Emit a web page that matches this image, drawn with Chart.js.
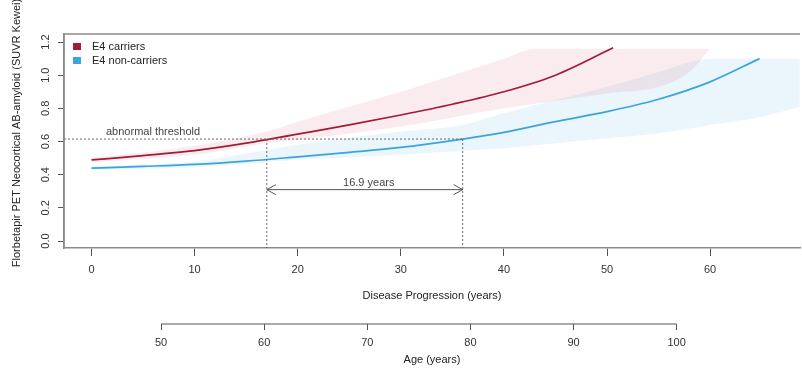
<!DOCTYPE html>
<html>
<head>
<meta charset="utf-8">
<script src="https://cdn.jsdelivr.net/npm/chart.js@4"></script>
<style>
  html, body { margin: 0; padding: 0; background: #fff; }
  canvas { display: block; }
</style>
</head>
<body>
<canvas id="chart" width="802" height="376"></canvas>
<script>
// curves (disease progression in years -> SUVR)
const carriersYears = [0, 5, 10, 15, 20, 25, 30, 35, 40, 45, 50.6];
const carriersSuvr = [0.489, 0.515, 0.545, 0.59, 0.645, 0.70, 0.76, 0.825, 0.90, 1.0, 1.165];

const nonCarriersYears = [0, 5, 10, 15, 20, 25, 30, 36, 40, 45, 50, 55, 60, 64.8];
const nonCarriersSuvr = [0.44, 0.45, 0.462, 0.482, 0.508, 0.535, 0.565, 0.615, 0.655, 0.72, 0.78, 0.855, 0.96, 1.10];

// confidence bands
const carriersBandYears = [0, 10, 17, 20, 30, 40, 43.2, 50, 55, 58, 60];
const carriersBandLow = [0.475, 0.52, 0.59, 0.61, 0.69, 0.80, 0.83, 0.89, 0.93, 1.02, 1.16];
const carriersBandHigh = [0.50, 0.575, 0.66, 0.72, 0.90, 1.10, 1.16, 1.16, 1.16, 1.16, 1.16];

const nonCarriersBandYears = [0, 10, 20, 30, 36, 40, 45, 50, 55, 60, 65, 68.7];
const nonCarriersBandLow = [0.43, 0.445, 0.49, 0.52, 0.545, 0.56, 0.59, 0.62, 0.65, 0.70, 0.75, 0.81];
const nonCarriersBandHigh = [0.45, 0.48, 0.58, 0.66, 0.70, 0.77, 0.85, 0.93, 1.02, 1.10, 1.10, 1.10];

// annotation values
const threshold = 0.615;
const carriersCross = 17;
const nonCarriersCross = 36;
const gapLabel = "16.9 years";
const arrowLevel = 0.31;

// axes
const xMin = -2.67, xMax = 68.72;
const yMin = -0.042, yMax = 1.2485;
const ageOffset = 43.25;
const ageFirst = 50, ageLast = 100;
const yTitle = "Florbetapir PET Neocortical AB-amyloid (SUVR Kewei)";

const red = "#a11c36";
const blue = "#3aa5dc";
const font = "Liberation Sans, Arial, sans-serif";

const pts = (xs, ys) => xs.map((x, i) => ({ x, y: ys[i] }));

const line = (label, xs, ys, color) => ({
  label,
  data: pts(xs, ys),
  borderColor: color,
  borderWidth: 1.7,
  pointRadius: 0,
  cubicInterpolationMode: "monotone",
  fill: false,
});

const band = (xs, ys, fill, bg) => ({
  data: pts(xs, ys),
  borderWidth: 0,
  borderColor: "rgba(0,0,0,0)",
  backgroundColor: bg,
  pointRadius: 0,
  cubicInterpolationMode: "monotone",
  fill,
});

const pink = "rgba(225, 140, 152, 0.17)";
const skyBlue = "rgba(140, 200, 238, 0.18)";

const decorations = {
  id: "decorations",
  afterDatasetsDraw(chart) {
    const { ctx, chartArea: a, scales } = chart;
    const x = scales.x, y = scales.y;
    ctx.save();
    // threshold and the two crossing lines
    ctx.strokeStyle = "#666";
    ctx.lineWidth = 1;
    ctx.setLineDash([2, 2]);
    const ty = y.getPixelForValue(threshold);
    ctx.beginPath();
    ctx.moveTo(a.left, ty);
    ctx.lineTo(x.getPixelForValue(nonCarriersCross), ty);
    [carriersCross, nonCarriersCross].forEach((v) => {
      ctx.moveTo(x.getPixelForValue(v), ty);
      ctx.lineTo(x.getPixelForValue(v), a.bottom);
    });
    ctx.stroke();
    ctx.setLineDash([]);

    // double arrow
    const x1 = x.getPixelForValue(carriersCross);
    const x2 = x.getPixelForValue(nonCarriersCross);
    const ay = y.getPixelForValue(arrowLevel);
    ctx.strokeStyle = "#555";
    ctx.beginPath();
    ctx.moveTo(x1, ay);
    ctx.lineTo(x2, ay);
    ctx.moveTo(x1 + 9, ay - 5);
    ctx.lineTo(x1, ay);
    ctx.lineTo(x1 + 9, ay + 5);
    ctx.moveTo(x2 - 9, ay - 5);
    ctx.lineTo(x2, ay);
    ctx.lineTo(x2 - 9, ay + 5);
    ctx.stroke();

    ctx.fillStyle = "#444";
    ctx.font = "11px " + font;
    ctx.textBaseline = "middle";
    ctx.textAlign = "center";
    ctx.fillText(gapLabel, (x1 + x2) / 2 + 4, ay - 7);
    ctx.textAlign = "left";
    ctx.fillText("abnormal threshold", a.left + 42, ty - 7);
    ctx.restore();
  },
  afterDraw(chart) {
    const { ctx, chartArea: a, scales } = chart;
    ctx.save();
    // top and left frame
    ctx.strokeStyle = "#8a8a8a";
    ctx.lineWidth = 1.5;
    ctx.beginPath();
    ctx.moveTo(a.left, a.bottom);
    ctx.lineTo(a.left, a.top);
    ctx.lineTo(a.right, a.top);
    ctx.stroke();

    // y tick labels and title, rotated like the original
    ctx.fillStyle = "#333";
    ctx.font = "11px " + font;
    ctx.textAlign = "center";
    ctx.textBaseline = "middle";
    scales.y.ticks.forEach((t) => {
      ctx.save();
      ctx.translate(46, scales.y.getPixelForValue(t.value));
      ctx.rotate(-Math.PI / 2);
      ctx.fillText(t.value.toFixed(1), 0, 0);
      ctx.restore();
    });
    ctx.save();
    ctx.fillStyle = "#222";
    ctx.translate(17, 133);
    ctx.rotate(-Math.PI / 2);
    ctx.fillText(yTitle, 0, 0);
    ctx.restore();

    // age axis line
    const age = scales.age;
    ctx.strokeStyle = "#555";
    ctx.lineWidth = 1;
    ctx.beginPath();
    ctx.moveTo(age.getPixelForValue(ageFirst), age.top);
    ctx.lineTo(age.getPixelForValue(ageLast), age.top);
    ctx.stroke();

    // legend
    [["E4 carriers", red], ["E4 non-carriers", blue]].forEach(([text, color], i) => {
      const ly = a.top + 13 + i * 14;
      ctx.fillStyle = color;
      ctx.fillRect(a.left + 9, ly - 4, 8, 7);
      ctx.fillStyle = "#222";
      ctx.textAlign = "left";
      ctx.fillText(text, a.left + 28, ly);
    });
    ctx.restore();
  },
};

new Chart(document.getElementById("chart"), {
  type: "line",
  data: {
    datasets: [
      line("E4 carriers", carriersYears, carriersSuvr, red),
      line("E4 non-carriers", nonCarriersYears, nonCarriersSuvr, blue),
      band(carriersBandYears, carriersBandHigh, { target: 3 }, pink),
      band(carriersBandYears, carriersBandLow, false, pink),
      band(nonCarriersBandYears, nonCarriersBandHigh, { target: 5 }, skyBlue),
      band(nonCarriersBandYears, nonCarriersBandLow, false, skyBlue),
    ],
  },
  options: {
    responsive: false,
    animation: false,
    devicePixelRatio: 1,
    layout: { padding: { top: 34, right: 2, left: 0, bottom: 0 } },
    plugins: {
      legend: { display: false },
      tooltip: { enabled: false },
    },
    scales: {
      x: {
        type: "linear",
        position: "bottom",
        weight: 0,
        min: xMin,
        max: xMax,
        afterFit: (s) => { s.height = 76; },
        ticks: {
          stepSize: 10,
          includeBounds: false,
          padding: 7,
          color: "#333",
          font: { family: font, size: 11 },
        },
        grid: { drawOnChartArea: false, tickLength: 8, color: "#555" },
        border: { display: true, color: "#8a8a8a", width: 1.5 },
        title: {
          display: true,
          text: "Disease Progression (years)",
          color: "#222",
          font: { family: font, size: 11 },
          padding: { top: 0, bottom: 21 },
        },
      },
      age: {
        type: "linear",
        position: "bottom",
        weight: 1,
        min: xMin + ageOffset,
        max: xMax + ageOffset,
        afterFit: (s) => { s.height = 52; },
        afterBuildTicks: (s) => {
          s.ticks = s.ticks.filter((t) => t.value >= ageFirst && t.value <= ageLast);
        },
        ticks: {
          stepSize: 10,
          includeBounds: false,
          padding: 6,
          color: "#333",
          font: { family: font, size: 11 },
        },
        grid: { drawOnChartArea: false, tickLength: 6, color: "#555" },
        border: { display: false },
        title: {
          display: true,
          text: "Age (years)",
          color: "#222",
          font: { family: font, size: 11 },
          padding: { top: 0, bottom: 9 },
        },
      },
      y: {
        type: "linear",
        min: yMin,
        max: yMax,
        afterFit: (s) => { s.width = 64; },
        ticks: { stepSize: 0.2, includeBounds: false, display: false },
        grid: { drawOnChartArea: false, tickLength: 6, color: "#555" },
        border: { display: true, color: "#8a8a8a", width: 1.5 },
        title: { display: false },
      },
    },
  },
  plugins: [decorations],
});
</script>
</body>
</html>
